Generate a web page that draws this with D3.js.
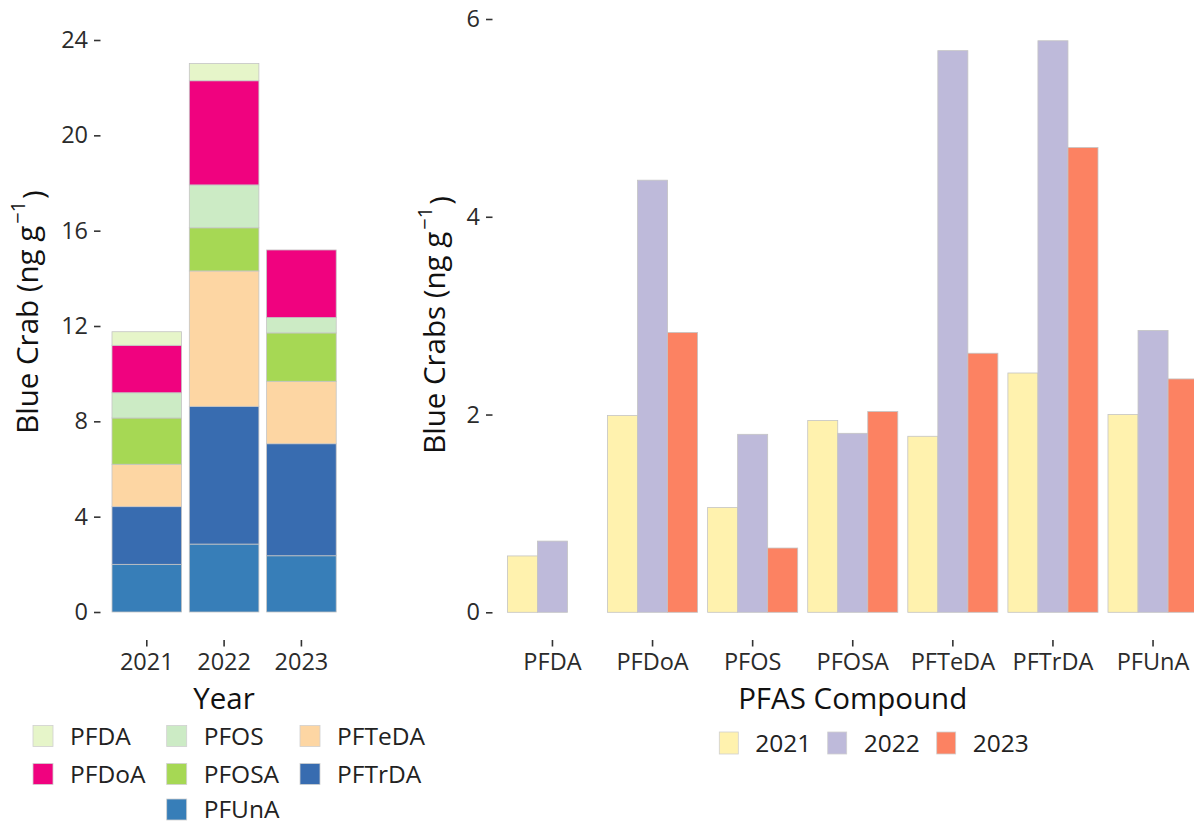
<!DOCTYPE html>
<html>
<head>
<meta charset="utf-8">
<script src="https://cdn.jsdelivr.net/npm/d3@7"></script>
<style>
  body { margin: 0; background: #fff; }
  svg text { font-family: "Open Sans", Lato, sans-serif; font-weight: 400; }
</style>
</head>
<body>
<svg id="chart" width="1194" height="825"></svg>
<script>
// PFAS concentrations in blue crabs (ng g-1), by compound and sampling year
const years = ["2021", "2022", "2023"];
const compounds = ["PFDA", "PFDoA", "PFOS", "PFOSA", "PFTeDA", "PFTrDA", "PFUnA"];
const val2021 = [0.57, 1.99, 1.06, 1.94, 1.78, 2.42, 2.00];
const val2022 = [0.72, 4.37, 1.80, 1.81, 5.68, 5.78, 2.85];
const val2023 = [null, 2.83, 0.65, 2.03, 2.62, 4.70, 2.36];

// stacking order, bottom to top
const stackOrder = ["PFUnA", "PFTrDA", "PFTeDA", "PFOSA", "PFOS", "PFDoA", "PFDA"];
const compoundColors = ["#E6F5C9", "#F0027F", "#CCEBC5", "#A6D854", "#FDD6A3", "#386CB0", "#377EB8"];
const yearColors = ["#FFF2AE", "#BEBADA", "#FC8262"];

const leftTicks = [0, 4, 8, 12, 16, 20, 24];
const rightTicks = [0, 2, 4, 6];
const legendRows = [["PFDA", "PFOS", "PFTeDA"], ["PFDoA", "PFOSA", "PFTrDA"], [null, "PFUnA", null]];

const yearValues = [val2021, val2022, val2023];
const FONT = "'Open Sans', Lato, sans-serif";
const svg = d3.select("#chart");
svg.append("rect").attr("width", 1194).attr("height", 825).attr("fill", "#fff");

const colorByCompound = d3.scaleOrdinal(compounds, compoundColors);
const colorByYear = d3.scaleOrdinal(years, yearColors);

const barStroke = "#c4c4c4";
const tickColor = "#333";
const panelBottom = 640;
const tickFont = 23.5, titleFont = 29.5, legendFont = 24.5;

function styleAxis(g) {
  g.select(".domain").remove();
  g.selectAll(".tick line").attr("stroke", tickColor).attr("stroke-width", 1.6);
  g.selectAll(".tick text").attr("fill", "#2b2b2b").attr("font-size", tickFont)
    .style("font-family", FONT);
}

// ---------- Left: stacked totals by year ----------
const byYear = years.map((yr, yi) => {
  const row = { year: yr };
  compounds.forEach((c, ci) => { row[c] = yearValues[yi][ci] || 0; });
  return row;
});
const stacked = d3.stack().keys(stackOrder)(byYear);

const xL = d3.scaleBand().domain(years).range([100.4, 347.8]).paddingInner(0.1).paddingOuter(0.15);
const yL = d3.scaleLinear().domain([0, 24]).range([612, 40]);

const left = svg.append("g");
left.selectAll("g.layer").data(stacked).join("g").attr("class", "layer")
  .attr("fill", d => colorByCompound(d.key))
  .selectAll("rect").data(d => d.filter(s => s[1] - s[0] > 0)).join("rect")
  .attr("x", d => xL(d.data.year))
  .attr("width", xL.bandwidth())
  .attr("y", d => yL(d[1]))
  .attr("height", d => yL(d[0]) - yL(d[1]))
  .attr("stroke", barStroke).attr("stroke-width", 0.8);

left.append("g").attr("transform", "translate(100.5,0)")
  .call(d3.axisLeft(yL).tickValues(leftTicks).tickFormat(d3.format("d")).tickSize(6.5).tickPadding(6))
  .call(styleAxis);

left.append("g").attr("transform", `translate(0,${panelBottom})`)
  .call(d3.axisBottom(xL).tickSize(6.5).tickPadding(7))
  .call(styleAxis);

left.append("text").attr("x", 224).attr("y", 709).attr("text-anchor", "middle")
  .attr("font-size", titleFont).attr("fill", "#111").text("Year");

const ttlL = left.append("text").attr("transform", "translate(38,312) rotate(-90)")
  .attr("text-anchor", "middle").attr("font-size", titleFont).attr("fill", "#111");
ttlL.append("tspan").text("Blue Crab (ng g");
ttlL.append("tspan").attr("dy", "-0.65em").attr("dx", 2).attr("font-size", 20).text("\u22121");
ttlL.append("tspan").attr("dy", "0.65em").attr("dx", 2).text(")");

// legend for compounds
const legL = left.append("g");
const legColX = [33, 166.7, 300];
const legRowY = [736, 774, 809.5];
legendRows.forEach((row, ri) => row.forEach((name, ci) => {
  if (!name) return;
  const g = legL.append("g").attr("transform", `translate(${legColX[ci]},${legRowY[ri]})`);
  g.append("rect").attr("x", 0).attr("y", -10.5).attr("width", 20).attr("height", 21)
    .attr("fill", colorByCompound(name)).attr("stroke", "#d0d0d0").attr("stroke-width", 0.8);
  g.append("text").attr("x", 37).attr("y", 8.8).attr("font-size", legendFont).attr("fill", "#222").text(name);
}));

// ---------- Right: compounds grouped by year ----------
const xR = d3.scaleBand().domain(compounds).range([492.4, 1213.1]).paddingInner(0.1).paddingOuter(0.15);
const xYear = d3.scaleBand().domain(years).range([0, xR.bandwidth()]);
const yR = d3.scaleLinear().domain([0, 6]).range([612.3, 19]);

const right = svg.append("g");
const groups = right.selectAll("g.grp").data(compounds).join("g").attr("class", "grp")
  .attr("transform", c => `translate(${xR(c)},0)`);
groups.selectAll("rect")
  .data((c, ci) => years.map((yr, yi) => ({ year: yr, value: yearValues[yi][ci] })).filter(d => d.value != null))
  .join("rect")
  .attr("x", d => xYear(d.year))
  .attr("width", xYear.bandwidth())
  .attr("y", d => yR(d.value))
  .attr("height", d => yR(0) - yR(d.value))
  .attr("fill", d => colorByYear(d.year))
  .attr("stroke", barStroke).attr("stroke-width", 0.8);

right.append("g").attr("transform", "translate(492.5,0)")
  .call(d3.axisLeft(yR).tickValues(rightTicks).tickFormat(d3.format("d")).tickSize(6.5).tickPadding(6))
  .call(styleAxis);

right.append("g").attr("transform", `translate(0,${panelBottom})`)
  .call(d3.axisBottom(xR).tickSize(6.5).tickPadding(7))
  .call(styleAxis);

right.append("text").attr("x", 852.7).attr("y", 709).attr("text-anchor", "middle")
  .attr("font-size", titleFont).attr("fill", "#111").text("PFAS Compound");

const ttlR = right.append("text").attr("transform", "translate(445,325) rotate(-90)")
  .attr("text-anchor", "middle").attr("font-size", titleFont).attr("fill", "#111");
ttlR.append("tspan").text("Blue Crabs (ng g");
ttlR.append("tspan").attr("dy", "-0.65em").attr("dx", 2).attr("font-size", 20).text("\u22121");
ttlR.append("tspan").attr("dy", "0.65em").attr("dx", 2).text(")");

// legend for years
const legR = right.append("g");
const legRX = [719.3, 827.7, 936.7];
years.forEach((yr, i) => {
  const g = legR.append("g").attr("transform", `translate(${legRX[i]},743)`);
  g.append("rect").attr("x", 0).attr("y", -11).attr("width", 19).attr("height", 22)
    .attr("fill", colorByYear(yr)).attr("stroke", "#d0d0d0").attr("stroke-width", 0.8);
  g.append("text").attr("x", 36).attr("y", 9.4).attr("font-size", legendFont).attr("fill", "#222").text(yr);
});
</script>
</body>
</html>
